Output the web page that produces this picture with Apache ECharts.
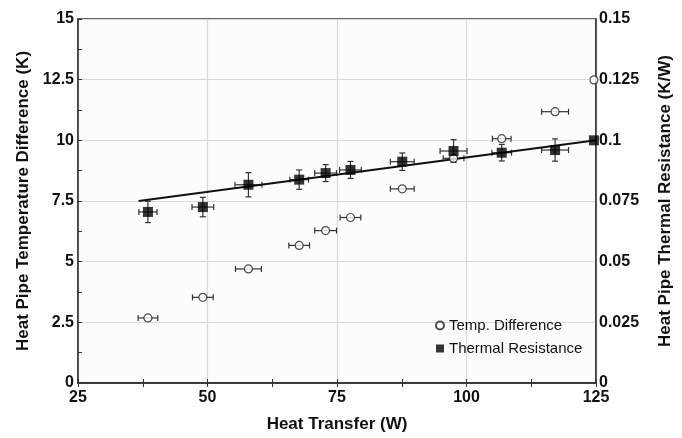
<!DOCTYPE html>
<html>
<head>
<meta charset="utf-8">
<script src="https://cdn.jsdelivr.net/npm/echarts@6/dist/echarts.min.js"></script>
<style>
html,body{margin:0;padding:0;background:#fff;}
#chart{width:682px;height:438px;}
</style>
</head>
<body>
<div id="chart"></div>
<script>
// Heat transfer (W)
const qTemp = [38.5, 49.1, 57.9, 67.7, 72.8, 77.6, 87.6, 97.5, 106.8, 117.1, 124.6];
const tempDiff = [2.68, 3.53, 4.70, 5.67, 6.28, 6.82, 8.00, 9.26, 10.07, 11.18, 12.49];
const qTempErr = [1.9, 2.0, 2.5, 2.0, 2.1, 2.0, 2.3, 2.0, 1.8, 2.6, 0];

const qRes = [38.5, 49.1, 57.9, 67.7, 72.8, 77.6, 87.6, 97.5, 106.8, 117.1, 124.6];
const thermalRes = [0.0705, 0.0725, 0.0817, 0.0838, 0.0865, 0.0878, 0.0912, 0.0956, 0.0949, 0.0960, 0.1000];
const qResErr = [1.75, 2.1, 2.6, 1.8, 2.1, 2.1, 2.3, 2.6, 1.9, 2.6, 0];
const resErr = [0.0044, 0.0040, 0.0050, 0.0040, 0.0035, 0.0035, 0.0036, 0.0047, 0.0034, 0.0046, 0];

const fitLine = [[36.7, 0.075], [125, 0.100]];

const xTicks = [25, 50, 75, 100, 125];
const leftTicks = [0, 2.5, 5, 7.5, 10, 12.5, 15];
const rightTicks = [0, 0.025, 0.05, 0.075, 0.1, 0.125, 0.15];

const FONT = "'Liberation Sans', Arial, Helvetica, sans-serif";
const chart = echarts.init(document.getElementById('chart'), null, {renderer: 'canvas'});

function errRender(params, api) {
  const x = api.value(0), y = api.value(1), xe = api.value(2), ye = api.value(3);
  const children = [];
  const cap = 3;
  const st = {stroke: '#333', lineWidth: 1.2};
  if (xe > 0) {
    const l = api.coord([x - xe, y]), r = api.coord([x + xe, y]);
    children.push({type: 'line', shape: {x1: l[0], y1: l[1], x2: r[0], y2: r[1]}, style: st});
    children.push({type: 'line', shape: {x1: l[0], y1: l[1] - cap, x2: l[0], y2: l[1] + cap}, style: st});
    children.push({type: 'line', shape: {x1: r[0], y1: r[1] - cap, x2: r[0], y2: r[1] + cap}, style: st});
  }
  if (ye > 0) {
    const t = api.coord([x, y + ye]), b = api.coord([x, y - ye]);
    children.push({type: 'line', shape: {x1: t[0], y1: t[1], x2: b[0], y2: b[1]}, style: st});
    children.push({type: 'line', shape: {x1: t[0] - cap, y1: t[1], x2: t[0] + cap, y2: t[1]}, style: st});
    children.push({type: 'line', shape: {x1: b[0] - cap, y1: b[1], x2: b[0] + cap, y2: b[1]}, style: st});
  }
  return {type: 'group', children: children};
}

const axisLineStyle = {color: '#333', width: 1.5};
const tickLabel = {fontFamily: FONT, fontWeight: 'bold', fontSize: 16, color: '#111'};
const nameStyle = {fontFamily: FONT, fontWeight: 'bold', fontSize: 17, color: '#111'};

const option = {
  backgroundColor: '#fff',
  animation: false,
  grid: {left: 78, right: 86, top: 19, bottom: 51, show: true, backgroundColor: '#fcfcfc', borderColor: '#333', borderWidth: 1.5},
  legend: {
    left: 430, top: 313, orient: 'vertical', itemGap: 8, itemWidth: 8, itemHeight: 8,
    textStyle: {fontFamily: FONT, fontSize: 15, color: '#111'},
    data: [{name: 'Temp. Difference', icon: 'circle'}, {name: 'Thermal Resistance', icon: 'rect'}]
  },
  xAxis: [{
    type: 'value', min: xTicks[0], max: xTicks[xTicks.length - 1], interval: 25,
    name: 'Heat Transfer (W)', nameLocation: 'middle', nameGap: 33, nameTextStyle: nameStyle,
    axisLine: {show: true, lineStyle: axisLineStyle},
    axisTick: {show: true, inside: true, length: 4, lineStyle: {color: '#333'}},
    minorTick: {show: true, splitNumber: 2, length: 4, lineStyle: {color: '#333'}},
    axisLabel: Object.assign({margin: 7}, tickLabel),
    splitLine: {show: true, lineStyle: {color: '#d8d8d8', width: 1.2}}
  }, {
    type: 'value', position: 'top', min: xTicks[0], max: xTicks[xTicks.length - 1], interval: 25,
    axisLine: {show: true, lineStyle: axisLineStyle},
    axisTick: {show: true, inside: true, length: 4, lineStyle: {color: '#333'}},
    minorTick: {show: true, splitNumber: 2, length: 4, lineStyle: {color: '#333'}},
    axisLabel: {show: false}, splitLine: {show: false}
  }],
  yAxis: [{
    type: 'value', min: leftTicks[0], max: leftTicks[leftTicks.length - 1], interval: 2.5,
    name: 'Heat Pipe Temperature Difference (K)', nameLocation: 'middle', nameGap: 36, nameTextStyle: nameStyle,
    axisLine: {show: true, lineStyle: axisLineStyle},
    axisTick: {show: true, inside: true, length: 4, lineStyle: {color: '#333'}},
    minorTick: {show: true, splitNumber: 2, length: 4, lineStyle: {color: '#333'}},
    axisLabel: Object.assign({margin: 4, formatter: v => String(v)}, tickLabel),
    splitLine: {show: true, lineStyle: {color: '#d8d8d8', width: 1.2}}
  }, {
    type: 'value', position: 'right', min: rightTicks[0], max: rightTicks[rightTicks.length - 1], interval: 0.025,
    name: 'Heat Pipe Thermal Resistance (K/W)', nameLocation: 'middle', nameGap: 61, nameRotate: 90, nameTextStyle: nameStyle,
    axisLine: {show: true, lineStyle: axisLineStyle},
    axisTick: {show: false},
    axisLabel: Object.assign({margin: 3, formatter: v => String(+v.toFixed(3))}, tickLabel),
    splitLine: {show: false}
  }],
  series: [
    {
      type: 'custom', name: 'tErr', xAxisIndex: 0, yAxisIndex: 0, renderItem: errRender, silent: true, z: 2,
      data: qTemp.map((q, i) => [q, tempDiff[i], qTempErr[i], 0])
    },
    {
      type: 'custom', name: 'rErr', xAxisIndex: 0, yAxisIndex: 1, renderItem: errRender, silent: true, z: 2,
      data: qRes.map((q, i) => [q, thermalRes[i], qResErr[i], resErr[i]])
    },
    {
      type: 'line', name: 'fit', xAxisIndex: 0, yAxisIndex: 1, data: fitLine, symbol: 'none', silent: true, z: 3,
      lineStyle: {color: '#111', width: 2}
    },
    {
      type: 'scatter', name: 'Temp. Difference', xAxisIndex: 0, yAxisIndex: 0, symbol: 'circle', symbolSize: 8, z: 4,
      itemStyle: {color: '#fff', borderColor: '#222', borderWidth: 1.2},
      data: qTemp.map((q, i) => [q, tempDiff[i]])
    },
    {
      type: 'scatter', name: 'Thermal Resistance', xAxisIndex: 0, yAxisIndex: 1, symbol: 'rect', symbolSize: 10, z: 5,
      itemStyle: {color: '#000'},
      data: qRes.map((q, i) => [q, thermalRes[i]])
    }
  ]
};
chart.setOption(option);
</script>
</body>
</html>
